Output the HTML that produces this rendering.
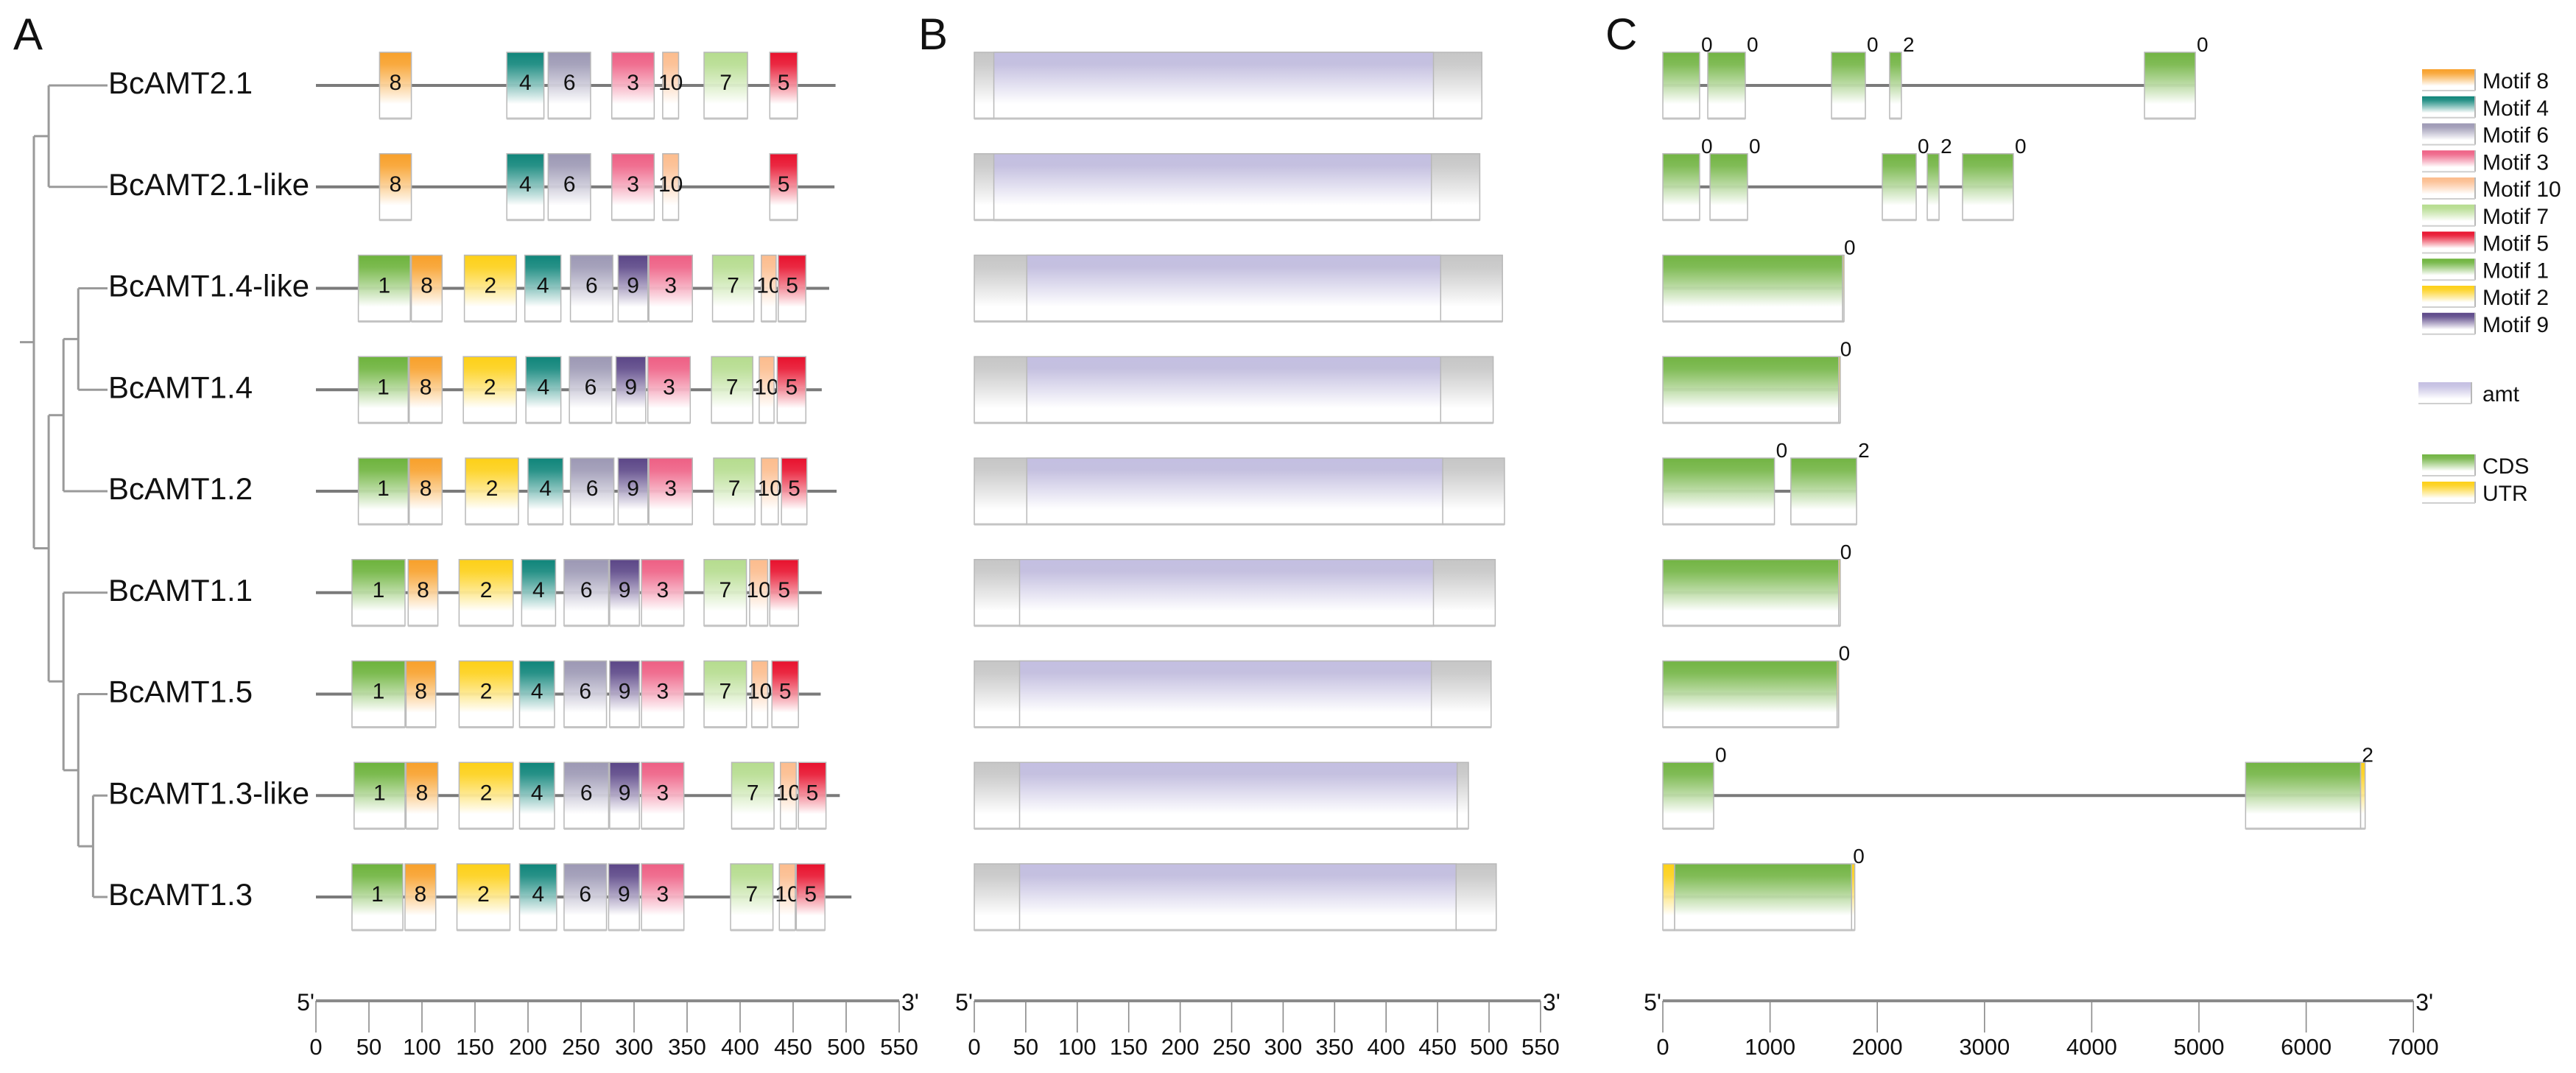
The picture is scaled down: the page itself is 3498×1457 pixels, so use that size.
<!DOCTYPE html>
<html><head><meta charset="utf-8">
<style>
html,body{margin:0;padding:0;background:#fff;}
svg{display:block;font-family:"Liberation Sans",Arial,sans-serif;}
</style></head>
<body>
<svg id="fig" xmlns="http://www.w3.org/2000/svg" width="3498" height="1457" viewBox="0 0 3498 1457">
<defs id="defs"></defs>
<g id="tree"></g>
<g id="panelA"></g>
<g id="panelB"></g>
<g id="panelC"></g>
<g id="legend"></g>
</svg>
<script>
// ---------- data ----------
const genes = ["BcAMT2.1","BcAMT2.1-like","BcAMT1.4-like","BcAMT1.4","BcAMT1.2","BcAMT1.1","BcAMT1.5","BcAMT1.3-like","BcAMT1.3"];
const proteinLengths = [490,489,484,477,491,477,476,494,505];
const motifIds = [
 [8,4,6,3,10,7,5],[8,4,6,3,10,5],
 [1,8,2,4,6,9,3,7,10,5],[1,8,2,4,6,9,3,7,10,5],[1,8,2,4,6,9,3,7,10,5],
 [1,8,2,4,6,9,3,7,10,5],[1,8,2,4,6,9,3,7,10,5],[1,8,2,4,6,9,3,7,10,5],[1,8,2,4,6,9,3,7,10,5]];
const motifStarts = [
 [60,180,219,279,327,366,428],[60,180,219,279,327,428],
 [40,90,140,197,240,285,314,374,420,436],[40,88,139,198,239,283,313,373,418,435],
 [40,88,141,200,240,285,314,375,420,439],[34,87,135,194,234,277,307,366,409,428],
 [34,85,135,192,234,277,307,366,411,430],[36,85,135,192,234,277,307,392,438,455],
 [34,84,133,192,234,276,307,391,437,453]];
const motifEnds = [
 [90,215,259,319,342,407,454],[90,215,259,319,342,454],
 [89,119,189,231,280,313,355,413,434,462],[87,119,189,231,279,311,353,412,432,462],
 [87,119,191,233,281,313,355,414,436,463],[84,115,186,226,276,305,347,406,426,455],
 [84,113,186,225,274,305,347,406,426,455],[84,115,186,225,276,305,347,432,453,481],
 [82,113,183,227,274,305,347,431,452,480]];
const domainLengths = [493,491,513,504,515,506,502,480,507];
const domainStarts = [19,19,51,51,51,44,44,44,44];
const domainEnds = [446,444,453,453,455,446,444,469,468];
const exonStarts = [[0,419,1573,2115,4492],[0,440,2047,2466,2795],[0],[0],[0,1194],[0],[0],[0,5435],[110]];
const exonEnds = [[343,769,1889,2225,4966],[343,790,2363,2576,3269],[1676],[1640],[1041,1807],[1640],[1625],[474,6507],[1760]];
const exonPhases = [["0","0","0","2","0"],["0","0","0","2","0"],["0"],["0"],["0","2"],["0"],["0"],["0","2"],["0"]];
const utrStarts = [[],[],[1676],[1640],[],[1640],[1625],[6507],[0,1760]];
const utrEnds = [[],[],[1690],[1655],[],[1655],[1640],[6550],[110,1790]];
const axisTicksAA = [0,50,100,150,200,250,300,350,400,450,500,550];
const axisTicksBP = [0,1000,2000,3000,4000,5000,6000,7000];
const legendMotifs = [8,4,6,3,10,7,5,1,2,9];
const motifColors = {1:"#6db33c",2:"#fdd017",3:"#ee5f84",4:"#0f857a",5:"#e8112d",6:"#9c98b4",7:"#b5dc8e",8:"#f8a02a",9:"#5b4687",10:"#fcbc8d"};

// ---------- helpers ----------
const NS="http://www.w3.org/2000/svg";
function mk(tag,attrs,parent){const e=document.createElementNS(NS,tag);for(const k in attrs)e.setAttribute(k,attrs[k]);parent.appendChild(e);return e;}
const defs=document.getElementById('defs');
function grad(id,color){const g=mk('linearGradient',{id:id,x1:0,y1:0,x2:0,y2:1},defs);
 mk('stop',{offset:'0','stop-color':color},g);mk('stop',{offset:'0.18','stop-color':color,'stop-opacity':'0.9'},g);
 mk('stop',{offset:'0.78','stop-color':'#ffffff'},g);mk('stop',{offset:'1','stop-color':'#ffffff'},g);}
for(const k in motifColors) grad('m'+k,motifColors[k]);
grad('gAmt','#c4bfe2');grad('gGray','#c6c6c6');grad('gCDS','#72b443');grad('gUTR','#fdd017');

const rowY = i => 116 + i*137.75;
const HALF=45;
const xA = v => 429 + v*1.44;
const xB = v => 1323 + v*1.398;
const xC = v => 2258 + v*0.1456;

function box(parent,x1,x2,cy,fill,name){
 const g=mk('g',{},parent);
 
 
 mk('rect',{x:x1,y:cy-HALF,width:Math.max(x2-x1,1),height:2*HALF,fill:'url(#'+fill+')',stroke:'#b8b8b8','stroke-width':1.5},g);
 mk('line',{x1:x1,x2:x2,y1:cy+HALF,y2:cy+HALF,stroke:'#c4c4c4','stroke-width':3},g);
 return g;
}
function txt(parent,x,y,s,size,anchor,name){
 const t=mk('text',{x:x,y:y,'font-size':size,'text-anchor':anchor||'start',fill:'#111'},parent);
 t.textContent=s;
 
 
 return t;
}

// ---------- panel letters ----------
const svg=document.getElementById('fig');
txt(svg,18,67,"A",60,'start','panel-label-a');
txt(svg,1247,67,"B",60,'start','panel-label-b');
txt(svg,2180,67,"C",60,'start','panel-label-c');

// ---------- tree ----------
const tree={c:[{c:[{l:0},{l:1}]},{c:[{c:[{c:[{l:2},{l:3}]},{l:4}]},{c:[{l:5},{c:[{l:6},{c:[{l:7},{l:8}]}]}]}]}]};
const treeG=document.getElementById('tree');
const depthX = d => 46 + d*20.1;
const LEAFX=146;
function layout(n,d){
 if(n.l!==undefined){n.y=rowY(n.l);return;}
 n.x=depthX(d);
 n.c.forEach(ch=>layout(ch,d+1));
 n.y=(n.c[0].y+n.c[n.c.length-1].y)/2;
}
layout(tree,0);
function drawTree(n){
 if(n.l!==undefined) return;
 const v=mk('line',{x1:n.x,x2:n.x,y1:n.c[0].y,y2:n.c[n.c.length-1].y,stroke:'#9a9a9a','stroke-width':3},treeG);
 
 
 n.c.forEach(ch=>{
  const x2 = ch.l!==undefined ? LEAFX : ch.x;
  const h=mk('line',{x1:n.x,x2:x2,y1:ch.y,y2:ch.y,stroke:'#9a9a9a','stroke-width':3},treeG);
  
  
  drawTree(ch);
 });
}
drawTree(tree);
const rootTick=mk('line',{x1:27,x2:tree.x,y1:tree.y,y2:tree.y,stroke:'#9a9a9a','stroke-width':3},treeG);



// ---------- panel A ----------
const pA=document.getElementById('panelA');
genes.forEach((gname,i)=>{
 const cy=rowY(i);
 txt(pA,147,cy+11,gname,42,'start','gene-label');
 const ln=mk('line',{x1:xA(0),x2:xA(proteinLengths[i]),y1:cy,y2:cy,stroke:'#7a7a7a','stroke-width':4},pA);
 
 
 motifIds[i].forEach((m,j)=>{
  const x1=xA(motifStarts[i][j]),x2=xA(motifEnds[i][j]);
  const g=box(pA,x1,x2,cy,'m'+m,'motif-'+m+'-box');
  txt(g,(x1+x2)/2,cy+6,String(m),30,'middle','motif-number');
 });
});
function axis(parent,x0,x1f,ticks,scale,name){
 const g=mk('g',{},parent);
 
 
 const y=1359;
 mk('line',{x1:scale(ticks[0]),x2:scale(ticks[ticks.length-1]),y1:y,y2:y,stroke:'#8a8a8a','stroke-width':4},g);
 ticks.forEach(t=>{
  mk('line',{x1:scale(t),x2:scale(t),y1:y,y2:1402,stroke:'#8a8a8a','stroke-width':1.6},g);
  txt(g,scale(t),1432,String(t),31,'middle','tick-label');
 });
 txt(g,scale(ticks[0])-2,1372,"5'",32,'end','five-prime-label');
 txt(g,scale(ticks[ticks.length-1])+3,1372,"3'",32,'start','three-prime-label');
}
axis(pA,0,0,axisTicksAA,xA,'x-axis-motif');

// ---------- panel B ----------
const pB=document.getElementById('panelB');
genes.forEach((gname,i)=>{
 const cy=rowY(i);
 box(pB,xB(0),xB(domainLengths[i]),cy,'gGray','protein-box');
 box(pB,xB(domainStarts[i]),xB(domainEnds[i]),cy,'gAmt','amt-domain');
});
axis(pB,0,0,axisTicksAA,xB,'x-axis-domain');

// ---------- panel C ----------
const pC=document.getElementById('panelC');
genes.forEach((gname,i)=>{
 const cy=rowY(i);
 let end=0;
 exonEnds[i].forEach(v=>end=Math.max(end,v));
 utrEnds[i].forEach(v=>end=Math.max(end,v));
 const ln=mk('line',{x1:xC(0),x2:xC(end),y1:cy,y2:cy,stroke:'#7a7a7a','stroke-width':4},pC);
 
 
 utrStarts[i].forEach((s,j)=>{ box(pC,xC(s),xC(utrEnds[i][j]),cy,'gUTR','utr-box'); });
 exonStarts[i].forEach((s,j)=>{
  const x2=xC(exonEnds[i][j]);
  box(pC,xC(s),x2,cy,'gCDS','cds-box');
  txt(pC,x2+2,cy-46,exonPhases[i][j],28,'start','intron-phase');
 });
});
axis(pC,0,0,axisTicksBP,xC,'x-axis-bp');

// ---------- legend ----------
const lg=document.getElementById('legend');
function legItem(x,cy,fill,label,name){
 const g=mk('g',{},lg);
 
 
 mk('rect',{x:x,y:cy-15,width:72,height:29,fill:'url(#'+fill+')'},g);
 mk('line',{x1:x+72,x2:x+72,y1:cy-15,y2:cy+14,stroke:'#b8b8b8','stroke-width':2},g);
 mk('line',{x1:x,x2:x+72,y1:cy+14,y2:cy+14,stroke:'#cfcfcf','stroke-width':2},g);
 txt(g,3371,cy+11,label,30,'start','legend-label');
}
legendMotifs.forEach((m,k)=>legItem(3289,109+k*36.75,'m'+m,'Motif '+m,'legend-motif-'+m));
legItem(3284,534,'gAmt','amt','legend-amt');
legItem(3289,632,'gCDS','CDS','legend-cds');
legItem(3289,669,'gUTR','UTR','legend-utr');
</script>
</body></html>
